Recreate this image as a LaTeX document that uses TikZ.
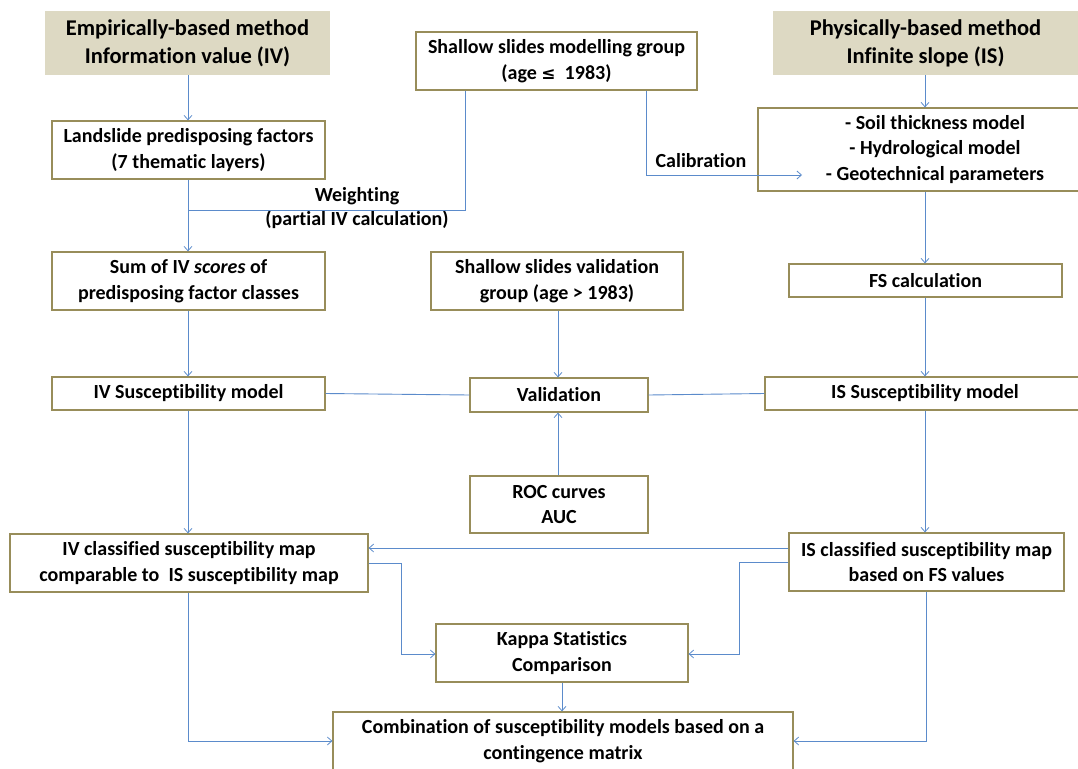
\documentclass[tikz,border=0pt]{standalone}
\usepackage{fontspec}
\setmainfont{Carlito}[Ligatures=NoCommon]
\newfontfamily\symfont{DejaVu Sans}
\usetikzlibrary{arrows.meta,calc}
\definecolor{boxline}{HTML}{988D5A}
\definecolor{headfill}{HTML}{DDD9C3}
\definecolor{conn}{HTML}{5B8BCB}
\tikzset{
  box/.style={draw=boxline, line width=1.2pt, fill=white, align=center, inner sep=0pt,
    font=\bfseries\fontsize{20}{25.5}\selectfont},
  head/.style={fill=headfill, align=center, inner sep=0pt,
    font=\bfseries\fontsize{22.5}{28}\selectfont},
  lbl/.style={align=center, inner sep=0pt, font=\bfseries\fontsize{20}{25}\selectfont},
  conn/.style={draw=conn, line width=0.9pt},
  arr/.style={conn, -{Straight Barb[length=4.5pt,width=8pt,line width=0.8pt]}},
}
% node by corners: x1 x2 y1 y2
\newcommand{\bx}[7]{\node[#1, minimum width={#4-#3}, minimum height={#6-#5}] (#2) at ({(#3+#4)/2},{(#5+#6)/2}) {#7};}
\begin{document}
\begin{tikzpicture}[x=1pt,y=-1pt]
\useasboundingbox (0,0) rectangle (1078,768);
\bx{head}{ivh}{45}{330}{11}{75}{Empirically-based method\\Information value (IV)}
\bx{head}{ish}{773}{1078}{11}{75}{Physically-based method\\Infinite slope (IS)}
\bx{box}{smg}{416}{697}{32}{90}{Shallow slides modelling group\\(age {\symfont\fontsize{17}{24}\selectfont≤}\ \ 1983)}
\bx{box}{lpf}{52}{325}{121}{179}{Landslide predisposing factors\\(7 thematic layers)}
\bx{box}{soil}{758}{1112}{108}{191}{\fontsize{20}{24.5}\selectfont- Soil thickness model\\- Hydrological model\\- Geotechnical parameters}
\bx{box}{sum}{52}{325}{252}{310}{Sum of IV \textit{scores} of\\predisposing factor classes}
\bx{box}{svg}{431}{683}{252}{310}{Shallow slides validation\\group (age > 1983)}
\bx{box}{fs}{789}{1062}{264}{297}{FS calculation}
\bx{box}{ivs}{52}{325}{377}{410}{IV Susceptibility model}
\bx{box}{val}{470}{648}{378}{412}{Validation}
\bx{box}{iss}{765}{1085}{377}{410}{IS Susceptibility model}
\bx{box}{roc}{470}{648}{476}{533}{ROC curves\\AUC}
\bx{box}{ivc}{10}{368}{534}{592}{IV classified susceptibility map\\comparable to\ \ IS susceptibility map}
\bx{box}{isc}{789}{1064}{533}{591}{IS classified susceptibility map\\based on FS values}
\bx{box}{kap}{436}{688}{624}{682}{Kappa Statistics\\Comparison}
\bx{box}{comb}{333}{793}{712}{770}{Combination of susceptibility models based on a\\contingence matrix}

\coordinate (wj) at (188,210);
\coordinate (cal) at (802,175);
% labels
\node[lbl] (wl) at (357,196) {Weighting};
\node[lbl] (wl2) at (357,220) {(partial IV calculation)};
\node[lbl] (cl) at (701,161) {Calibration};

% connectors
\draw[arr] (ivh.south -| wj) -- (lpf.north -| wj);
\draw[arr] (lpf.south -| wj) -- (sum.north -| wj);
\draw[conn] (smg.south -| 465.6,0) -- (465.6,210) -- (wj);
\draw[arr] (smg.south -| 646,0) -- (646,175) -- (cal);
\draw[arr] (ish.south -| 925,0) -- (soil.north -| 925,0);
\draw[arr] (soil.south -| 925,0) -- (fs.north -| 925,0);
\draw[arr] (sum.south -| wj) -- (ivs.north -| wj);
\draw[arr] (svg.south -| 558,0) -- (val.north -| 558,0);
\draw[arr] (fs.south -| 925,0) -- (iss.north -| 925,0);
\draw[conn] (ivs.east) -- (val.west);
\draw[conn] (val.east) -- (iss.west);
\draw[arr] (roc.north -| 558,0) -- (val.south -| 558,0);
\draw[arr] (ivs.south -| wj) -- (ivc.north -| wj);
\draw[arr] (iss.south -| 925,0) -- (isc.north -| 925,0);
\draw[arr] (isc.west |- 0,548) -- (ivc.east |- 0,548);
\draw[arr] (ivc.east |- 0,563) -- (401,563) -- (401,654) -- (kap.west |- 0,654);
\draw[arr] (isc.west |- 0,562) -- (739,562) -- (739,654) -- (kap.east |- 0,654);
\draw[arr] (kap.south -| 562,0) -- (comb.north -| 562,0);
\draw[arr] (ivc.south -| wj) -- (188,741) -- (comb.west |- 0,741);
\draw[arr] (isc.south -| 926,0) -- (926,741) -- (comb.east |- 0,741);
\end{tikzpicture}
\end{document}
